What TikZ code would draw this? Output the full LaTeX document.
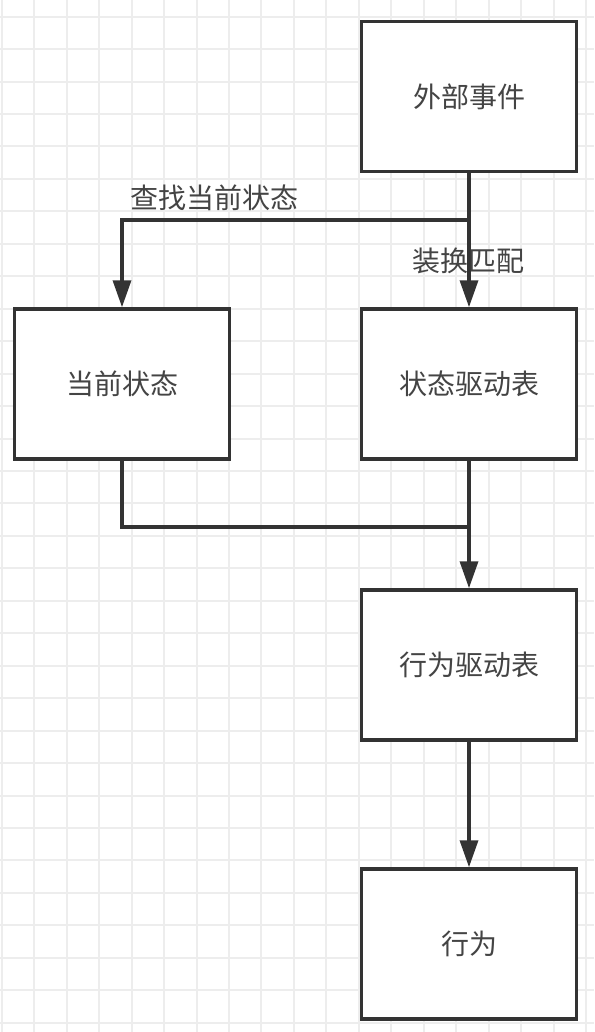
\documentclass[tikz,border=0pt]{standalone}
\usepackage{fontspec}
\setmainfont{Noto Sans CJK SC}
\usetikzlibrary{arrows.meta}
\definecolor{linec}{HTML}{333333}
\definecolor{textc}{HTML}{444444}
\definecolor{gridc}{HTML}{EDEDED}
\tikzset{
  box/.style={draw=linec, line width=3.5pt, fill=white, rectangle,
    minimum width=215pt, minimum height=150pt, inner sep=0pt,
    font=\fontsize{28}{31}\selectfont, text=textc},
  conn/.style={draw=linec, line width=3.5pt,
    -{Triangle[length=27pt,width=18pt]}},
  plain/.style={draw=linec, line width=3.5pt},
  lbl/.style={font=\fontsize{28}{31}\selectfont, text=textc, inner sep=0pt},
  gridline/.style={draw=gridc, line width=2pt}
}
\begin{document}
\begin{tikzpicture}[x=1pt,y=-1pt]
\fill[white] (0,0) rectangle (594,1032);
\useasboundingbox (0,0) rectangle (594,1032);
% grid
\foreach \k in {-1,...,17} {
  \draw[gridline] ({34.3+32.45*\k},0) -- ({34.3+32.45*\k},1032);
}
\foreach \k in {0,...,31} {
  \draw[gridline] (0,{16.7+32.45*\k}) -- (594,{16.7+32.45*\k});
}
% nodes
\node[box] (ext) at (469,96.5) {外部事件};
\node[box] (cur) at (122,384) {当前状态};
\node[box] (sdt) at (469,384) {状态驱动表};
\node[box] (adt) at (469,665) {行为驱动表};
\node[box] (act) at (469,944) {行为};
\coordinate (jA) at (469,220);
\coordinate (jB) at (469,527);
% connectors
\draw[conn] (ext.south) -- (sdt.north);
\draw[conn] (jA) -| (cur.north);
\draw[plain] (cur.south) |- (jB);
\draw[conn] (sdt.south) -- (adt.north);
\draw[conn] (adt.south) -- (act.north);
% labels
\node[lbl] (l1) at (214,198) {查找当前状态};
\node[lbl] (l2) at (468,261) {装换匹配};
\end{tikzpicture}
\end{document}
